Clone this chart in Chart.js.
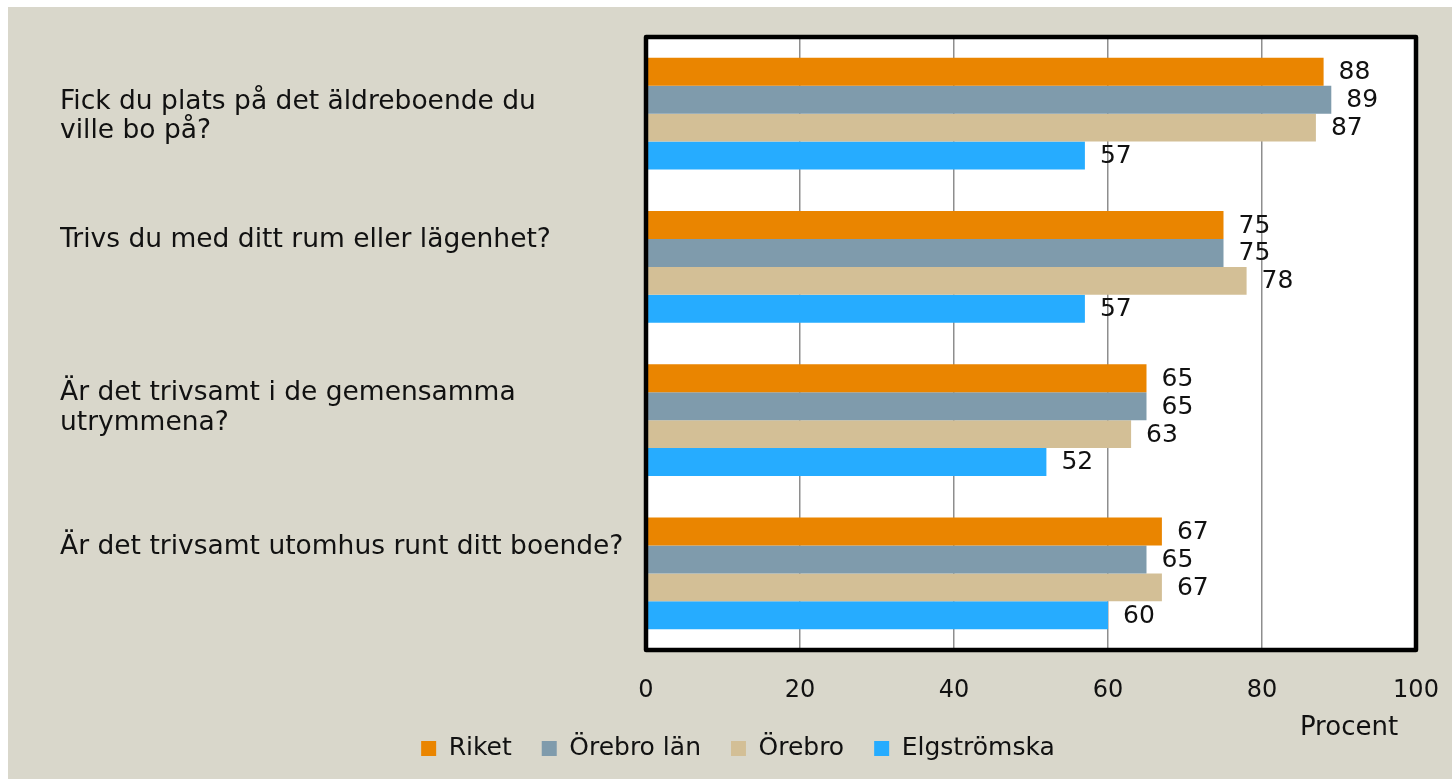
<!DOCTYPE html>
<html><head><meta charset="utf-8">
<script src="https://cdn.jsdelivr.net/npm/chart.js@4"></script>
<style>
html,body{margin:0;padding:0;background:#fff;overflow:hidden;}
#wrap{position:absolute;left:8px;top:7px;width:1444px;height:772px;background:#D9D7CB;overflow:hidden;}
canvas{display:block;}
</style></head><body>
<div id="wrap"><canvas id="c" width="1444" height="764"></canvas></div>
<script>
const categories = [
  ['Fick du plats på det äldreboende du', 'ville bo på?'],
  ['Trivs du med ditt rum eller lägenhet?', '', ''],
  ['Är det trivsamt i de gemensamma', 'utrymmena?', ''],
  ['Är det trivsamt utomhus runt ditt boende?', '', '']
];
const seriesNames = ['Riket', 'Örebro län', 'Örebro', 'Elgströmska'];
const riket = [88, 75, 65, 67];
const orebroLan = [89, 75, 65, 65];
const orebro = [87, 78, 63, 67];
const elgstromska = [57, 57, 52, 60];
const xTicks = [0, 20, 40, 60, 80, 100];
const xTitle = 'Procent';

const colors = ['#EA8500', '#7F9BAC', '#D3BF96', '#26ACFF'];
const FONT = 'DejaVu Sans';
const TXT = '#111111';

const framePlugin = {
  id: 'framePlugin',
  beforeDraw(chart) {
    const {ctx, chartArea: a} = chart;
    ctx.save();
    ctx.fillStyle = '#ffffff';
    ctx.fillRect(a.left, a.top, a.right - a.left, a.bottom - a.top);
    ctx.restore();
  },
  afterDraw(chart) {
    const {ctx, chartArea: a} = chart;
    ctx.save();
    ctx.strokeStyle = '#000000';
    ctx.lineWidth = 4.5;
    ctx.lineJoin = 'round';
    ctx.strokeRect(a.left, a.top, a.right - a.left, a.bottom - a.top);
    ctx.fillStyle = TXT;
    ctx.font = '26px "' + FONT + '"';
    ctx.textAlign = 'center';
    ctx.textBaseline = 'middle';
    ctx.fillText(xTitle, a.right - 67, a.bottom + 78);
    ctx.restore();
  }
};

const valueLabels = {
  id: 'valueLabels',
  afterDatasetsDraw(chart) {
    const {ctx} = chart;
    ctx.save();
    ctx.fillStyle = TXT;
    ctx.font = '25px "' + FONT + '"';
    ctx.textAlign = 'left';
    ctx.textBaseline = 'middle';
    chart.data.datasets.forEach((ds, i) => {
      const meta = chart.getDatasetMeta(i);
      meta.data.forEach((bar, j) => {
        ctx.fillText(String(ds.data[j]), bar.x + 15, bar.y + 1);
      });
    });
    ctx.restore();
  }
};

const seriesData = [riket, orebroLan, orebro, elgstromska];

new Chart(document.getElementById('c'), {
  type: 'bar',
  data: {
    labels: categories,
    datasets: seriesNames.map((n, i) => ({
      label: n,
      data: seriesData[i],
      backgroundColor: colors[i],
      borderWidth: 0,
      categoryPercentage: 0.728,
      barPercentage: 1.0
    }))
  },
  options: {
    indexAxis: 'y',
    responsive: false,
    animation: false,
    devicePixelRatio: 1,
    layout: {padding: {left: 52, right: 36, top: 30, bottom: 0}},
    plugins: {
      legend: {
        position: 'bottom',
        labels: {
          boxWidth: 15, boxHeight: 15, padding: 30,
          color: TXT,
          font: {family: FONT, size: 25}
        }
      },
      tooltip: {enabled: false}
    },
    scales: {
      x: {
        min: 0, max: 100,
        afterBuildTicks(scale) { scale.ticks = xTicks.map(v => ({value: v})); },
        afterFit(scale) { scale.paddingLeft = 0; scale.paddingRight = 0; scale.height = 56; },
        grid: {color: '#8E8E8E', lineWidth: 1.5, drawTicks: false},
        border: {display: false},
        ticks: {padding: 26, color: TXT, font: {family: FONT, size: 24}}
      },
      y: {
        grid: {display: false},
        border: {display: false},
        afterFit(scale) { scale.width = 586; scale.paddingTop = 0; scale.paddingBottom = 0; },
        ticks: {
          crossAlign: 'far', padding: 0, color: TXT, labelOffset: 3,
          font: {family: FONT, size: 26.5, lineHeight: 1.115}
        }
      }
    }
  },
  plugins: [framePlugin, valueLabels]
});
</script>
</body></html>
